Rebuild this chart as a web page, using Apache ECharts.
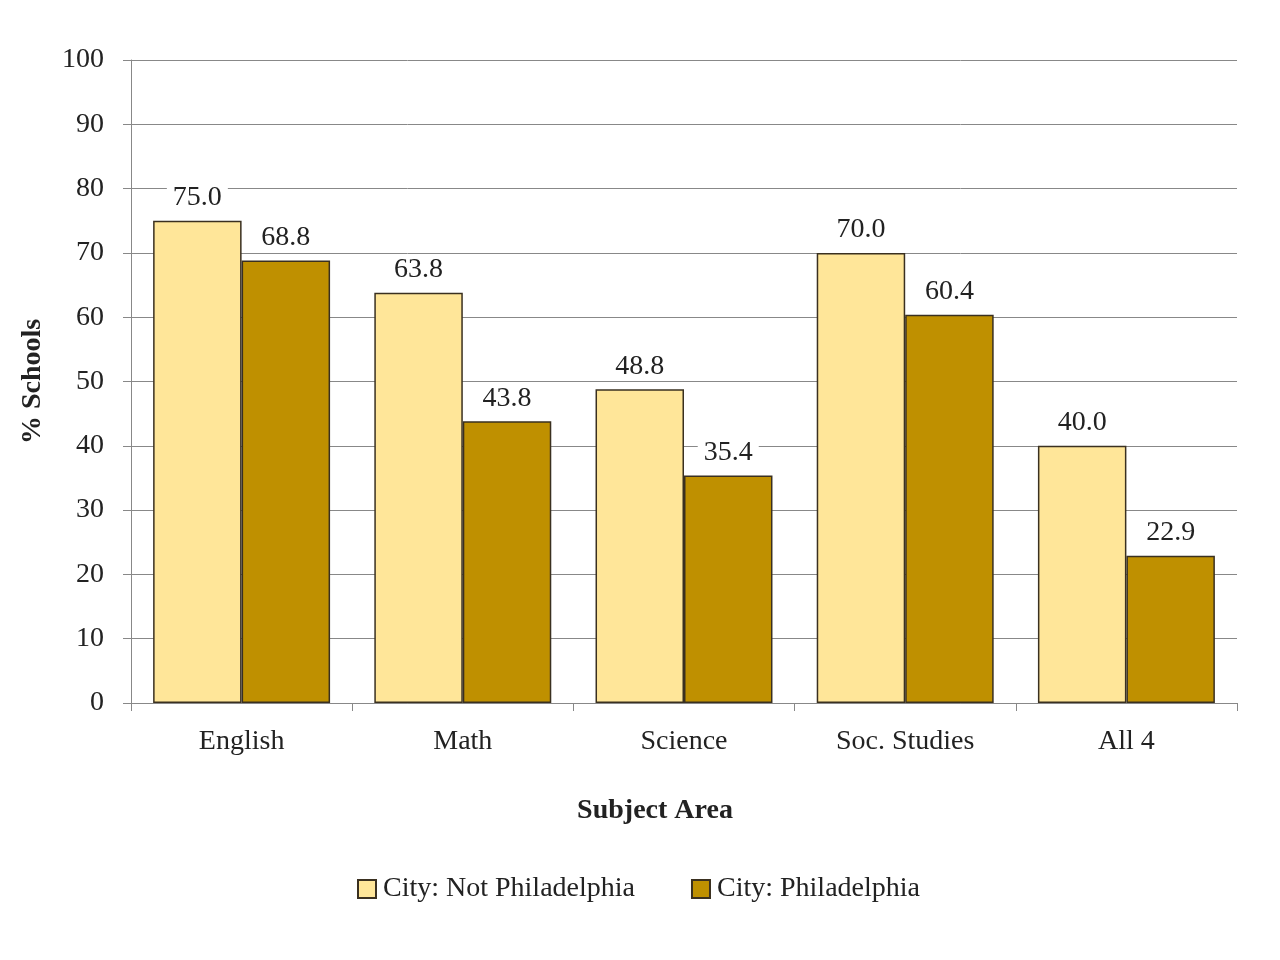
<!DOCTYPE html>
<html>
<head>
<meta charset="utf-8">
<script src="https://cdn.jsdelivr.net/npm/echarts@6/dist/echarts.min.js"></script>
<style>
  html, body { margin: 0; padding: 0; background: #fff; }
  #chart { width: 1280px; height: 960px; }
</style>
</head>
<body>
<div id="chart"></div>
<script>
// values
var categories = ['English', 'Math', 'Science', 'Soc. Studies', 'All 4'];
var notPhilly = [75.0, 63.8, 48.8, 70.0, 40.0];
var philly = [68.8, 43.8, 35.4, 60.4, 22.9];

var font = '"Liberation Serif", "DejaVu Serif", serif';

var labelStyle = {
  show: true,
  position: 'top',
  distance: 9,
  formatter: function (p) { return p.value.toFixed(1); },
  fontFamily: font,
  fontSize: 28,
  color: '#222',
  backgroundColor: '#fff',
  padding: [0, 6, 0, 6]
};

var chart = echarts.init(document.getElementById('chart'));
chart.setOption({
  animation: false,
  textStyle: { fontFamily: font },
  grid: { left: 131, right: 43, top: 60, bottom: 257, containLabel: false },
  legend: {
    bottom: 52,
    left: 352,
    icon: 'rect',
    itemWidth: 18,
    itemHeight: 18,
    itemGap: 56,
    textStyle: { fontFamily: font, fontSize: 28, color: '#222', padding: [0, 0, 0, 2] },
    data: ['City: Not Philadelphia', 'City: Philadelphia']
  },
  xAxis: {
    type: 'category',
    data: categories,
    name: 'Subject Area',
    nameLocation: 'middle',
    nameGap: 94,
    nameTextStyle: {
      fontFamily: font, fontSize: 28, fontWeight: 'bold', color: '#222',
      padding: [0, 58, 0, 0]
    },
    axisLine: { lineStyle: { color: '#888' } },
    axisTick: { show: true, length: 8, lineStyle: { color: '#888' } },
    axisLabel: { fontFamily: font, fontSize: 28, color: '#222', margin: 25 }
  },
  yAxis: {
    type: 'value',
    min: 0,
    max: 100,
    interval: 10,
    name: '% Schools',
    nameLocation: 'middle',
    nameGap: 84,
    nameTextStyle: { fontFamily: font, fontSize: 28, fontWeight: 'bold', color: '#222' },
    axisLine: { show: true, lineStyle: { color: '#888' } },
    axisTick: { show: true, length: 8, lineStyle: { color: '#888' } },
    axisLabel: { fontFamily: font, fontSize: 28, color: '#222', margin: 27 },
    splitLine: { lineStyle: { color: '#888' } }
  },
  series: [
    {
      name: 'City: Not Philadelphia',
      type: 'bar',
      data: notPhilly,
      barGap: '0%',
      barCategoryGap: '20%',
      itemStyle: { color: '#FFE699', borderColor: '#3a3020', borderWidth: 1.5 },
      label: labelStyle
    },
    {
      name: 'City: Philadelphia',
      type: 'bar',
      data: philly,
      barGap: '0%',
      barCategoryGap: '20%',
      itemStyle: { color: '#BF9000', borderColor: '#3a3020', borderWidth: 1.5 },
      label: labelStyle
    }
  ]
});
</script>
</body>
</html>
